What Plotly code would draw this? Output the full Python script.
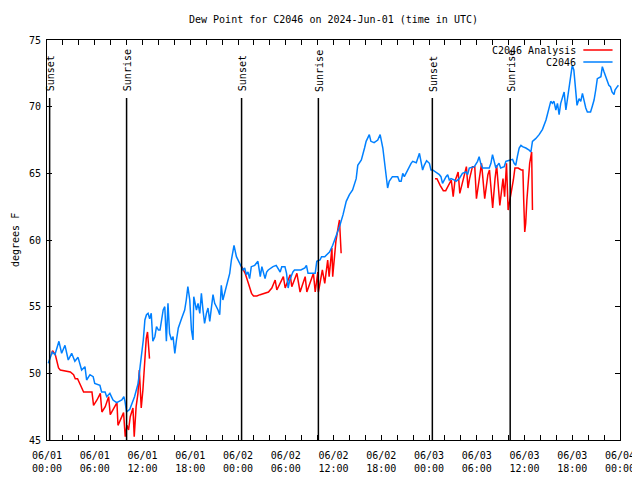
import pandas as pd
import plotly.graph_objects as go

# ---------------- data (hours after 2024-06-01 00:00 UTC) ----------------
obs_hours = [
    0.16, 0.66, 1.0, 1.5, 1.84, 2.26, 2.67, 3.1, 3.5, 3.9, 4.35, 4.77, 4.98, 5.4, 5.8, 6.0,
    6.65, 6.86, 7.3, 7.5, 7.9, 8.3, 8.75, 9.4, 9.66, 9.8, 10.0, 10.4, 11.0, 11.45, 11.7, 11.9,
    12.1, 12.3, 12.5, 12.7, 12.9, 13.1, 13.3, 13.55, 13.76, 14.0, 14.2, 14.6, 14.8, 15.0, 15.2,
    15.4, 15.64, 15.84, 16.06, 16.27, 16.5, 16.9, 17.3, 17.5, 17.7, 17.94, 18.15, 18.35, 18.44,
    18.78, 18.98, 19.2, 19.4, 19.6, 19.8, 20.03, 20.23, 20.45, 20.66, 20.86, 21.07, 21.29, 21.49,
    21.7, 21.9, 22.1, 22.33, 22.54, 22.74, 22.96, 23.17, 23.5, 23.8, 24.2, 24.42, 24.62, 24.84,
    25.05, 25.25, 25.46, 25.67, 26.1, 26.5, 26.8, 27.0, 27.4, 27.6, 27.8, 28.4, 28.8, 29.3, 29.5,
    29.9, 30.1, 30.3, 30.5, 30.9, 31.1, 31.9, 32.4, 32.6, 32.8, 33.7, 33.9, 34.3, 34.5, 34.9,
    35.5, 35.9, 36.3, 36.6, 36.75, 37.2, 37.6, 38.0, 38.4, 38.85, 39.05, 39.5, 39.7, 39.9, 40.1,
    40.5, 40.7, 41.1, 41.56, 41.86, 42.2, 42.4, 42.6, 42.8, 43.0, 43.2, 43.4, 44.07, 44.28, 44.5,
    44.7, 44.9, 45.3, 45.75, 45.95, 46.4, 46.8, 47.0, 47.2, 47.4, 47.7, 48.05, 48.25, 48.46,
    48.88, 49.3, 49.5, 49.7, 50.14, 50.35, 50.55, 50.76, 51.18, 51.4, 51.8, 52.2, 52.65, 52.85,
    53.06, 53.7, 54.1, 54.3, 54.5, 54.73, 55.57, 55.78, 55.98, 56.2, 56.4, 56.6, 56.8, 57.0,
    57.45, 57.66, 58.08, 58.5, 58.7, 58.9, 59.1, 59.33, 59.55, 59.75, 60.17, 60.58, 60.8, 61.0,
    61.4, 61.84, 62.26, 62.7, 63.3, 63.5, 63.7, 63.94, 64.14, 64.35, 64.55, 64.76, 64.98, 65.2,
    65.4, 65.6, 65.8, 66.0, 66.2, 66.4, 66.6, 66.86, 67.07, 67.28, 67.5, 67.7, 67.9, 68.3, 68.5,
    68.74, 68.95, 69.15, 69.6, 69.78, 70.0, 70.2, 70.4, 70.6, 70.8, 71.0, 71.25, 71.37, 71.66, 71.8,
]
obs_values = [
    50.75, 51.6, 51.4, 52.4, 51.5, 52.1, 51.0, 51.5, 50.9, 51.2, 50.25, 50.5, 49.5, 49.9, 49.75, 49.25,
    49.1, 48.6, 48.6, 48.25, 48.5, 48.0, 47.8, 48.0, 48.25, 47.9, 47.1, 47.3, 48.25, 49.25, 50.5, 51.5,
    52.5, 54.0, 54.4, 54.5, 54.1, 54.5, 52.4, 52.75, 53.5, 53.25, 53.25, 54.75, 55.0, 52.4, 55.25,
    53.0, 52.5, 52.75, 51.5, 52.5, 53.4, 54.1, 54.75, 55.5, 56.5, 55.5, 53.25, 52.5, 55.75,
    54.75, 55.25, 54.5, 56.0, 54.75, 53.75, 54.5, 54.9, 53.9, 55.0, 55.9, 55.25, 55.0, 54.75,
    54.4, 56.6, 55.5, 56.0, 56.5, 57.0, 57.5, 58.5, 59.6, 58.75, 58.25, 58.1, 57.75, 57.9,
    57.4, 57.6, 57.1, 58.0, 58.1, 58.4, 57.25, 58.0, 57.1, 57.6, 57.75, 58.0, 58.1, 57.6, 58.0,
    58.0, 57.5, 56.4, 57.0, 57.6, 57.75, 57.75, 57.9, 58.1, 57.5, 57.5, 58.4, 58.5, 58.75, 58.75,
    59.1, 59.6, 60.25, 60.75, 61.0, 61.9, 62.9, 63.4, 63.75, 64.6, 65.6, 66.0, 66.4, 66.9, 67.4,
    67.9, 67.4, 67.3, 67.5, 67.9, 66.9, 65.9, 64.75, 63.9, 64.4, 64.6, 64.75, 64.75, 64.4, 64.4,
    65.0, 64.75, 65.25, 65.75, 65.9, 65.8, 66.5, 65.9, 65.25, 65.6, 65.95, 65.75, 65.25, 65.25,
    65.1, 64.9, 64.75, 64.25, 64.75, 64.9, 64.5, 64.6, 64.5, 64.4, 64.6, 65.0, 65.1, 64.9,
    65.4, 65.5, 65.9, 66.25, 65.75, 65.4, 65.4, 65.75, 66.4, 65.75, 65.4, 65.6, 65.75, 65.4,
    65.5, 65.9, 65.95, 66.05, 65.75, 65.6, 66.25, 66.9, 67.1, 67.0, 66.9, 66.75, 66.6, 67.4,
    67.6, 67.9, 68.3, 69.0, 70.4, 70.25, 70.4, 69.75, 70.25, 69.4, 70.25, 70.6, 71.1, 69.75,
    70.6, 71.5, 72.1, 73.1, 72.75, 71.1, 70.1, 70.6, 70.4, 71.0, 70.4, 69.9, 69.6, 69.6, 70.0,
    70.5, 71.25, 72.1, 72.25, 73.0, 72.6, 72.25, 71.9, 71.6, 71.5, 71.1, 70.9, 71.25, 71.5, 71.6,
]

ana_hours = [
    0.55, 0.7, 1.04, 1.45, 1.67, 2.3, 2.93, 3.34, 3.55, 3.84, 4.18, 4.6, 5.0, 5.65, 5.85, 6.28,
    6.7, 6.9, 7.32, 7.74, 7.95, 8.36, 8.79, 8.92, 9.2, 9.62, 9.83, 10.05, 10.25, 10.46, 10.8,
    10.96, 11.2, 11.43, 11.6, 11.84, 12.05, 12.26, 12.47, 12.63, 12.76, 12.88,
    18.0,
    24.46, 24.9, 25.3, 25.7, 25.95, 26.37, 26.78, 27.2, 27.6, 27.83, 28.25, 28.67, 28.88, 29.3,
    29.7, 29.93, 30.35, 30.55, 30.76, 31.1, 31.4, 31.8, 32.2, 32.44, 32.65, 33.06, 33.48, 33.7,
    33.9, 34.03, 34.1, 34.3, 34.6, 34.9, 35.27, 35.45, 35.8, 35.9, 36.1, 36.3, 36.6, 36.75, 36.96,
    42.0,
    48.76, 49.0, 49.4, 49.8, 50.1, 50.4, 50.8, 51.04, 51.25, 51.46, 51.66, 51.87, 52.3, 52.5,
    52.7, 52.9, 53.1, 53.46, 53.75, 53.96, 54.38, 54.6, 55.0, 55.2, 55.4, 55.6, 55.8, 56.0, 56.3,
    56.5, 56.9, 57.1, 57.3, 57.5, 57.74, 57.94, 58.2, 58.6, 58.8, 59.2, 59.6, 59.8, 59.9, 60.03,
    60.15, 60.3, 60.65, 60.9, 61.0,
]
ana_values = [
    51.4, 51.7, 51.4, 50.4, 50.25, 50.2, 50.1, 49.9, 49.6, 49.6, 49.1, 48.6, 48.6, 48.6, 47.6, 48.0,
    48.5, 47.1, 47.5, 48.25, 46.9, 47.4, 47.8, 46.1, 46.5, 47.05, 45.25, 46.1, 45.75, 46.75, 47.4,
    45.25, 47.5, 48.5, 50.25, 47.4, 48.75, 50.75, 52.6, 53.1, 52.1, 51.1,
    None,
    58.0, 57.5, 56.75, 56.0, 55.8, 55.8, 55.9, 56.0, 56.1, 56.1, 56.4, 57.0, 56.25, 56.75,
    57.25, 56.4, 57.1, 57.4, 56.5, 57.0, 57.5, 56.1, 56.75, 57.25, 56.1, 56.75, 57.5, 56.1,
    57.0, 57.6, 56.1, 56.9, 57.75, 56.75, 58.5, 57.25, 59.4, 57.25, 58.75, 59.9, 61.0, 61.5, 59.0,
    None,
    64.6, 64.6, 64.1, 63.7, 63.7, 64.1, 64.5, 63.25, 64.4, 64.75, 65.1, 63.5, 64.5, 65.1,
    65.5, 63.9, 64.6, 65.5, 65.5, 63.1, 64.9, 65.75, 63.1, 64.1, 64.9, 65.25, 64.0, 62.4, 64.6,
    65.6, 62.6, 63.75, 64.6, 63.25, 65.75, 62.25, 63.1, 64.5, 65.4, 65.4, 65.25, 65.25, 63.0, 60.6,
    61.25, 63.0, 65.75, 66.6, 62.25,
]

event_hours = [0.33, 10.0, 24.45, 34.1, 48.42, 58.2]
event_labels = ["Sunset", "Sunrise", "Sunset", "Sunrise", "Sunset", "Sunrise"]

series_names = ["C2046 Analysis", "C2046"]
series_colors = ["#ff0000", "#0080ff"]

y_ticks = [45, 50, 55, 60, 65, 70, 75]

# ---------------- build ----------------
base = pd.Timestamp("2024-06-01 00:00")


def to_time(hours):
    return [base + pd.Timedelta(hours=h) for h in hours]


FONT = "DejaVu Sans Mono, Liberation Mono, monospace"
W, H = 632, 472  # page body has an 8px margin

fig = go.Figure()
fig.add_trace(go.Scatter(x=to_time(ana_hours), y=ana_values, mode="lines",
                         name=series_names[0], line=dict(color=series_colors[0], width=1.5),
                         connectgaps=False, showlegend=False))
fig.add_trace(go.Scatter(x=to_time(obs_hours), y=obs_values, mode="lines",
                         name=series_names[1], line=dict(color=series_colors[1], width=1.5),
                         showlegend=False))

shapes = []
annotations = []
for h, lab in zip(event_hours, event_labels):
    t = base + pd.Timedelta(hours=h)
    shapes.append(dict(type="line", xref="x", yref="paper", x0=t, x1=t, y0=0, y1=0.855,
                       line=dict(color="black", width=1.5), layer="above"))
    annotations.append(dict(text=lab, x=t, xref="x", y=0.866, yref="paper",
                            textangle=-90, xanchor="center", yanchor="bottom",
                            xshift=1, showarrow=False, font=dict(size=10, family=FONT)))

# legend (text left, sample line right, as in the reference)
leg_y = [0.975, 0.945]
for name, col, ly in zip(series_names, series_colors, leg_y):
    annotations.append(dict(text=name, x=0.926, xref="paper", y=ly, yref="paper",
                            xanchor="right", yanchor="middle", showarrow=False,
                            font=dict(size=10, family=FONT)))
    shapes.append(dict(type="line", xref="paper", yref="paper", x0=0.936, x1=0.987,
                       y0=ly, y1=ly, line=dict(color=col, width=1.5)))

annotations.append(dict(text="degrees F", x=0, xref="paper", y=0.5, yref="paper",
                        xanchor="center", yanchor="middle",
                        xshift=-32, textangle=-90, showarrow=False,
                        font=dict(size=10, family=FONT)))

fig.update_layout(
    width=W, height=H,
    margin=dict(l=39, r=20, t=32, b=40),
    paper_bgcolor="white", plot_bgcolor="white",
    font=dict(family=FONT, size=10, color="black"),
    title=dict(text="Dew Point for C2046 on 2024-Jun-01 (time in UTC)", x=0.5, xref="paper",
               y=1 - 11 / H, yref="container", yanchor="middle", xanchor="center",
               font=dict(size=10, family=FONT)),
    shapes=shapes, annotations=annotations,
    showlegend=False,
)
fig.update_xaxes(
    type="date", range=[base, base + pd.Timedelta(hours=72)],
    tick0=base, dtick=6 * 3600000, tickformat="%m/%d<br>%H:%M",
    ticks="inside", ticklen=5, tickcolor="black", ticklabelstandoff=6, automargin=False,
    minor=dict(dtick=2 * 3600000, tick0=base, ticks="inside", ticklen=5, tickcolor="black"),
    showline=True, linecolor="black", linewidth=1, mirror="ticks",
    showgrid=False, zeroline=False,
)
fig.update_yaxes(
    range=[45, 75], tickvals=y_ticks, ticks="inside", ticklen=5, tickcolor="black",
    ticklabelstandoff=3, automargin=False,
    showline=True, linecolor="black", linewidth=1, mirror="ticks",
    showgrid=False, zeroline=False,
)

fig.write_html("out.html")
